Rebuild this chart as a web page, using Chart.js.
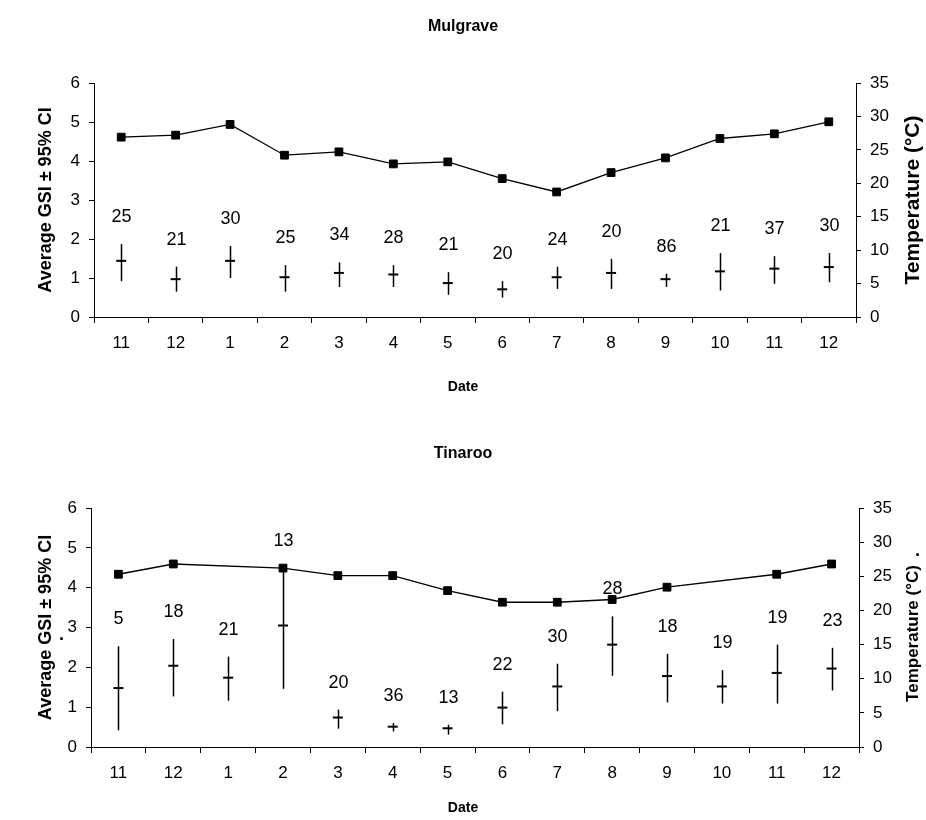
<!DOCTYPE html>
<html>
<head>
<meta charset="utf-8">
<script src="https://cdn.jsdelivr.net/npm/chart.js@4.4.1/dist/chart.umd.min.js"></script>
<style>
  body { margin: 0; background: #fff; }
  canvas { display: block; }
</style>
</head>
<body>
<canvas id="mulgrave" width="926" height="410"></canvas>
<canvas id="tinaroo" width="926" height="410"></canvas>
<script>
// Sampling months (Nov to Dec of the following year)
const months = ["11", "12", "1", "2", "3", "4", "5", "6", "7", "8", "9", "10", "11", "12"];

// Mulgrave: water temperature (°C), average GSI with 95% CI, sample size
const mulTemp = [26.9, 27.2, 28.8, 24.2, 24.7, 22.9, 23.2, 20.7, 18.7, 21.6, 23.8, 26.7, 27.4, 29.2];
const mulGsi = [1.44, 0.97, 1.44, 1.02, 1.13, 1.09, 0.87, 0.71, 1.02, 1.13, 0.97, 1.17, 1.24, 1.28];
const mulLow = [0.92, 0.65, 1.00, 0.65, 0.77, 0.77, 0.57, 0.50, 0.72, 0.72, 0.77, 0.68, 0.85, 0.89];
const mulHigh = [1.87, 1.29, 1.82, 1.33, 1.40, 1.33, 1.15, 0.92, 1.29, 1.49, 1.11, 1.64, 1.56, 1.64];
const mulN = [25, 21, 30, 25, 34, 28, 21, 20, 24, 20, 86, 21, 37, 30];

// Tinaroo (no temperature reading for months 1 and 10)
const tinTemp = [25.3, 26.8, null, 26.2, 25.1, 25.1, 22.9, 21.2, 21.2, 21.6, 23.4, null, 25.3, 26.8];
const tinGsi = [1.48, 2.04, 1.74, 3.05, 0.74, 0.51, 0.47, 0.99, 1.52, 2.57, 1.78, 1.52, 1.86, 1.97];
const tinLow = [0.42, 1.27, 1.16, 1.46, 0.46, 0.39, 0.31, 0.57, 0.90, 1.79, 1.12, 1.09, 1.09, 1.42];
const tinHigh = [2.53, 2.71, 2.27, 4.49, 0.94, 0.60, 0.56, 1.39, 2.09, 3.28, 2.34, 1.93, 2.57, 2.49];
const tinN = [5, 18, 21, 13, 20, 36, 13, 22, 30, 28, 18, 19, 19, 23];

const gsiTicks = [0, 6, 1];
const tempTicks = [0, 35, 5];

const FONT = "'Liberation Sans', Arial, sans-serif";
Chart.defaults.font.family = FONT;
Chart.defaults.color = "#000";

// Whiskers plus sample-size labels, drawn through the chart scales
const errorBarPlugin = {
  id: "errorBars",
  afterDatasetsDraw(chart, args, opts) {
    const { ctx } = chart;
    const x = chart.scales.x;
    const y = chart.scales.y;
    ctx.save();
    ctx.strokeStyle = "#000";
    ctx.lineWidth = 1.5;
    ctx.fillStyle = "#000";
    ctx.font = "18px " + FONT;
    ctx.textAlign = "center";
    ctx.textBaseline = "middle";
    opts.low.forEach((lo, i) => {
      const px = Math.round(x.getPixelForValue(i)) + 0.5;
      const top = y.getPixelForValue(opts.high[i]);
      ctx.beginPath();
      ctx.moveTo(px, y.getPixelForValue(lo));
      ctx.lineTo(px, top);
      ctx.stroke();
      ctx.fillText(String(opts.n[i]), px, top - 27);
    });
    ctx.restore();
  }
};

// Titles and axis captions
const captionPlugin = {
  id: "captions",
  afterDraw(chart, args, opts) {
    const { ctx, chartArea } = chart;
    const midX = 463;
    const midY = (chartArea.top + chartArea.bottom) / 2;
    ctx.save();
    ctx.fillStyle = "#000";
    ctx.textAlign = "center";
    ctx.textBaseline = "middle";
    ctx.font = "bold 16px " + FONT;
    ctx.fillText(opts.title, midX, opts.titleY);
    ctx.font = "bold 14px " + FONT;
    ctx.fillText("Date", midX, opts.dateY);

    ctx.font = "bold 18px " + FONT;
    ctx.save();
    ctx.translate(46, midY + (opts.leftShift || 0));
    ctx.rotate(-Math.PI / 2);
    ctx.fillText("Average GSI \u00b1 95% CI", 0, 0);
    ctx.restore();
    ctx.font = "bold " + opts.rightSize + "px " + FONT;
    ctx.save();
    ctx.translate(913, midY + (opts.rightShift || 0));
    ctx.rotate(-Math.PI / 2);
    ctx.fillText("Temperature (\u00b0C)", 0, 0);
    ctx.restore();

    if (opts.dots) {
      ctx.font = "bold 18px " + FONT;
      opts.dots.forEach(d => ctx.fillText("\u00b7", d[0], d[1]));
    }
    ctx.restore();
  }
};

function axisStyle(extra) {
  return Object.assign({
    border: { color: "#000", width: 1 },
    grid: { drawOnChartArea: false, color: "#000", tickLength: 5, tickWidth: 1 }
  }, extra);
}

function makeChart(id, temp, gsi, low, high, n, box, captions) {
  const h = 410;
  const tickFont = { size: 17 };
  return new Chart(document.getElementById(id), {
    type: "line",
    data: {
      labels: months,
      datasets: [
        {
          label: "Temperature",
          data: temp,
          yAxisID: "y1",
          borderColor: "#000",
          borderWidth: 1.3,
          backgroundColor: "#000",
          pointStyle: "rect",
          pointRadius: 5.5,
          pointBorderWidth: 1,
          spanGaps: true,
          tension: 0
        },
        {
          label: "GSI",
          data: gsi,
          yAxisID: "y",
          showLine: false,
          borderColor: "#000",
          pointStyle: "line",
          pointRadius: 5,
          pointBorderWidth: 2
        }
      ]
    },
    options: {
      responsive: false,
      animation: false,
      events: [],
      layout: { padding: { top: box.top, left: 0, right: 0, bottom: 0 } },
      plugins: {
        legend: { display: false },
        tooltip: { enabled: false },
        errorBars: { low: low, high: high, n: n },
        captions: captions
      },
      scales: {
        x: axisStyle({
          type: "category",
          offset: true,
          grid: { offset: true, drawOnChartArea: false, color: "#000", tickLength: 6 },
          ticks: { color: "#000", font: tickFont, padding: 10, maxRotation: 0, autoSkip: false },
          afterFit(s) { s.height = h - box.bottom; }
        }),
        y: axisStyle({
          position: "left",
          min: gsiTicks[0], max: gsiTicks[1],
          ticks: { color: "#000", font: tickFont, padding: 9, stepSize: gsiTicks[2] },
          afterFit(s) { s.width = box.left; }
        }),
        y1: axisStyle({
          position: "right",
          min: tempTicks[0], max: tempTicks[1],
          ticks: { color: "#000", font: tickFont, padding: 9, stepSize: tempTicks[2] },
          afterFit(s) { s.width = 926 - box.right; }
        })
      }
    },
    plugins: [errorBarPlugin, captionPlugin]
  });
}

makeChart("mulgrave", mulTemp, mulGsi, mulLow, mulHigh, mulN,
  { top: 83, bottom: 317, left: 94, right: 856 },
  { title: "Mulgrave", titleY: 27, dateY: 387, rightSize: 21 });

makeChart("tinaroo", tinTemp, tinGsi, tinLow, tinHigh, tinN,
  { top: 98, bottom: 337, left: 91, right: 859 },
  { title: "Tinaroo", titleY: 44, dateY: 398, rightSize: 17, rightShift: 6,
    dots: [[62, 230], [918, 146]] });
</script>
</body>
</html>
